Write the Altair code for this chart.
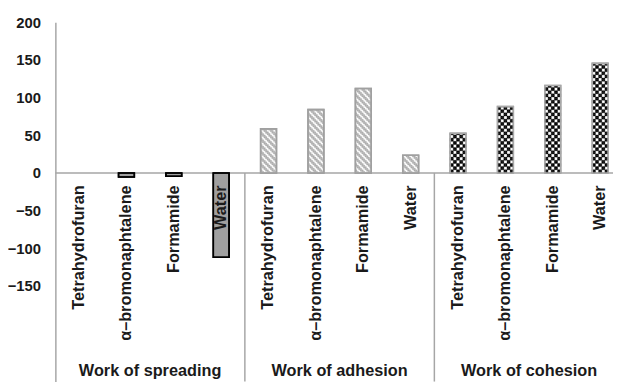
import altair as alt
import pandas as pd
import numpy as np

# ---- data ----
groups = ["Work of spreading", "Work of adhesion", "Work of cohesion"]
liquids = ["Tetrahydrofuran", "α–bromonaphtalene", "Formamide", "Water"]
spreading = [0.0, -5.5, -4.5, -112.0]
adhesion = [58.5, 84.0, 112.0, 23.5]
cohesion = [52.5, 88.0, 116.0, 145.5]
y_ticks = [-150, -100, -50, 0, 50, 100, 150, 200]

series = {"Work of spreading": spreading, "Work of adhesion": adhesion, "Work of cohesion": cohesion}
styles = {"Work of spreading": "spread", "Work of adhesion": "adh", "Work of cohesion": "coh"}

Y_MIN = -277
Y_MAX = 200
FONT = "Liberation Sans"

rows = []
for g in groups:
    for liq, v in zip(liquids, series[g]):
        rows.append({"key": g + "|" + liq, "group": g, "liquid": liq, "value": v, "style": styles[g]})
bars = pd.DataFrame(rows)
keys = list(bars["key"])

# pattern cells (hatch for adhesion, checkerboard for cohesion)
CELL = 2.1
NCOL = 10
cells = []
for g in ["Work of adhesion", "Work of cohesion"]:
    for liq, v in zip(liquids, series[g]):
        n = int(np.ceil(v / CELL))
        for r in range(n):
            y0 = r * CELL
            y1 = min((r + 1) * CELL, v)
            for c in range(NCOL):
                if g == "Work of adhesion":
                    if (c + r) % 4 in (0, 1):
                        cells.append({"key": g + "|" + liq, "col": c, "y0": y0, "y1": y1, "color": "#b0b0b0"})
                else:
                    if ((c // 2) + (r // 2)) % 2 == 0:
                        cells.append({"key": g + "|" + liq, "col": c, "y0": y0, "y1": y1, "color": "#000000"})
cells = pd.DataFrame(cells)

xscale = alt.Scale(domain=keys, range=[0, 576], paddingInner=2 / 3, paddingOuter=1 / 3)
yscale = alt.Scale(domain=[Y_MIN, Y_MAX], nice=False, zero=False)
yaxis = alt.Axis(values=y_ticks, ticks=False, grid=False, domainColor="#a6a6a6",
                 domainWidth=1.5, labelFont=FONT, labelFontSize=15, labelFontWeight="bold",
                 labelColor="#1a1a1a", labelPadding=15, title=None)

style_dom = ["spread", "adh", "coh"]
fill_rng = ["#a0a0a0", "#ffffff", "#ffffff"]
stroke_rng = ["#000000", "#a0a0a0", "#a8a8a8"]

X = alt.X("key:N", scale=xscale, axis=None, sort=keys)

zero = alt.Chart(pd.DataFrame({"z": [0]})).mark_rule(color="#a6a6a6", strokeWidth=1.5).encode(
    y=alt.Y("z:Q", scale=yscale, axis=yaxis, title=None)
)

bar_layer = alt.Chart(bars).mark_bar(strokeWidth=1.6).encode(
    x=X,
    y=alt.Y("value:Q", scale=yscale, axis=yaxis, title=None),
    fill=alt.Fill("style:N", scale=alt.Scale(domain=style_dom, range=fill_rng), legend=None),
    stroke=alt.Stroke("style:N", scale=alt.Scale(domain=style_dom, range=stroke_rng), legend=None),
    strokeOpacity=alt.condition("datum.value == 0", alt.value(0), alt.value(1)),
)

cell_layer = alt.Chart(cells).mark_rect(strokeWidth=0.3).encode(
    x=X,
    xOffset=alt.XOffset("col:O", scale=alt.Scale(domain=list(range(NCOL)), paddingInner=0, paddingOuter=0)),
    y=alt.Y("y0:Q", scale=yscale, axis=yaxis, title=None),
    y2="y1:Q",
    fill=alt.Fill("color:N", scale=None),
    stroke=alt.Stroke("color:N", scale=None),
)

outline = alt.Chart(bars).mark_bar(strokeWidth=1.6, fillOpacity=0).encode(
    x=X,
    y=alt.Y("value:Q", scale=yscale, axis=yaxis, title=None),
    stroke=alt.Stroke("style:N", scale=alt.Scale(domain=style_dom, range=stroke_rng), legend=None),
    strokeOpacity=alt.condition("datum.value == 0", alt.value(0), alt.value(1)),
)

labels = alt.Chart(bars.assign(ly=-16.5)).mark_text(
    angle=270, align="right", baseline="middle", font=FONT, fontSize=16.5, fontWeight="bold", color="#1a1a1a"
).encode(
    x=X,
    y=alt.Y("ly:Q", scale=yscale, axis=yaxis, title=None),
    text="liquid:N",
)

# separators half-way into the gap after a group's last bar; titles half-way between its 2nd and 3rd bars
sep_df = pd.DataFrame({"key": [g + "|" + liquids[-1] for g in groups[:-1]], "top": 0, "bot": Y_MIN})
grp_df = pd.DataFrame({"key": [g + "|" + liquids[1] for g in groups], "group": groups, "ly": -263})

separators = alt.Chart(sep_df).mark_rule(color="#a6a6a6", strokeWidth=1.5, xOffset=16).encode(
    x=alt.X("key:N", scale=xscale, axis=None, sort=keys, bandPosition=1),
    y=alt.Y("top:Q", scale=yscale, axis=yaxis, title=None),
    y2="bot:Q",
)

group_labels = alt.Chart(grp_df).mark_text(
    align="center", baseline="middle", font=FONT, fontSize=16.5, fontWeight="bold", color="#1a1a1a",
    xOffset=16,
).encode(
    x=alt.X("key:N", scale=xscale, axis=None, sort=keys, bandPosition=1),
    y=alt.Y("ly:Q", scale=yscale, axis=yaxis, title=None),
    text="group:N",
)

chart = alt.layer(zero, bar_layer, cell_layer, outline, separators, labels, group_labels).properties(
    width=565, height=364,
    padding={"left": 48, "top": 12, "right": 0, "bottom": 0},
    autosize=alt.AutoSizeParams(type="none"),
).configure_view(stroke=None)

chart.save("out.html", embed_options={"renderer": "svg", "actions": False})
